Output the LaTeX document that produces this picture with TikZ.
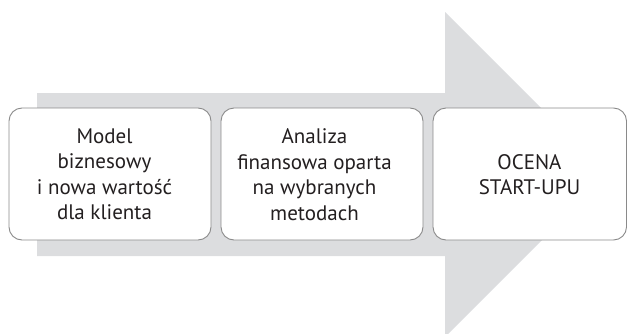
\documentclass[tikz,border=0pt]{standalone}
\usepackage{fontspec}
\setmainfont{PT Sans}
\definecolor{arrowgrey}{HTML}{DCDDDF}
\definecolor{boxline}{HTML}{8A8A8A}
\definecolor{ink}{HTML}{231F20}
\begin{document}
\begin{tikzpicture}[x=1pt,y=1pt,
  stagebox/.style={draw=boxline, line width=0.9pt, fill=white, rounded corners=13pt,
    inner sep=0pt},
  stagetext/.style={text=ink, align=center, inner sep=0pt,
    font=\fontsize{21}{25.5}\selectfont}]
\useasboundingbox (0,0) rectangle (628,333);
\clip (0,0) rectangle (628,333);
% big process arrow in the background
\fill[arrowgrey] (37,240) -- (445,240) -- (445,321) -- (607.5,158.5)
  -- (445,-4) -- (445,77) -- (37,77) -- cycle;
% stage boxes
\node[stagebox, minimum width=202pt, minimum height=132pt] (b1) at (110,159) {};
\node[stagebox, minimum width=202pt, minimum height=132pt] (b2) at (322,159) {};
\node[stagebox, minimum width=193.5pt, minimum height=132pt] (b3) at (529.75,159) {};
% stage labels
\node[stagetext] (t1) at (104.5,158.5) {Model\\biznesowy\\i nowa wartość\\dla klienta};
\node[stagetext] (t2) at (314.5,158.5) {Analiza\\finansowa oparta\\na wybranych\\metodach};
\node[stagetext] (t3) at (529.5,158.5) {OCENA\\START-UPU};
\end{tikzpicture}
\end{document}
